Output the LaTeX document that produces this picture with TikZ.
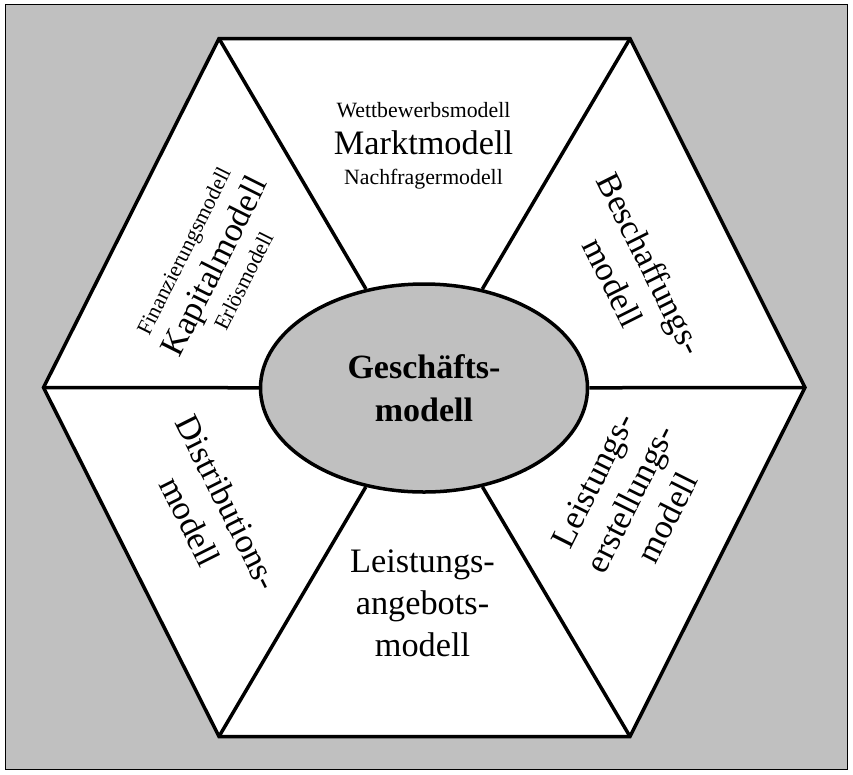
\documentclass[tikz,border=0pt]{standalone}
\usepackage{fontspec}
\setmainfont{Liberation Serif}
\usetikzlibrary{shapes.geometric}

\definecolor{hgrau}{RGB}{192,192,192}
\newcommand{\klein}{\fontsize{21.8}{26}\selectfont}

\begin{document}
\begin{tikzpicture}[x=1pt, y=-1pt,
    kante/.style={line width=3.5pt},
    feld/.style={align=center, inner sep=0pt, font=\fontsize{34.3}{41.7}\selectfont},
    kern/.style={kante, draw, fill=hgrau, ellipse, minimum width=327pt, minimum height=208pt,
      inner sep=0pt, align=center, font=\bfseries\fontsize{34}{42.7}\selectfont}]
  \useasboundingbox (0,0) rectangle (853,774);
  \draw[fill=hgrau, line width=1.5pt] (5.5,4.5) rectangle (847.5,769.5);
  \coordinate (o1) at (219,38.5);
  \coordinate (o2) at (630,38.5);
  \coordinate (r) at (805,387.5);
  \coordinate (u2) at (630,736.5);
  \coordinate (u1) at (219,736.5);
  \coordinate (l) at (43.5,387.5);
  \draw[kante, fill=white] (o1) -- (o2) -- (r) -- (u2) -- (u1) -- (l) -- cycle;
  \node[kern] (gm) at (424,388) {Geschäfts-\\modell};
  \foreach \e in {o1,o2,r,u2,u1,l}
    \draw[kante] (\e) -- (gm);
  \node[feld] (markt) at (423.5,145.3)
    {{\klein Wettbewerbsmodell}\\[-4pt] Marktmodell\\[-12.4pt] {\klein Nachfragermodell}};
  \node[feld, rotate=63.4] (kapital) at (213.5,266)
    {{\klein Finanzierungsmodell}\\[-4pt] Kapitalmodell\\[-12.4pt] {\klein Erlösmodell}};
  \node[feld, rotate=-63.4] (beschaffung) at (632,273) {Beschaffungs-\\modell};
  \node[feld, rotate=-63.4] (distribution) at (209,512) {Distributions-\\modell};
  \node[feld, rotate=63.4] (erstellung) at (630,499) {Leistungs-\\erstellungs-\\modell};
  \node[feld] (angebot) at (422.5,603.3) {Leistungs-\\angebots-\\modell};
\end{tikzpicture}
\end{document}
